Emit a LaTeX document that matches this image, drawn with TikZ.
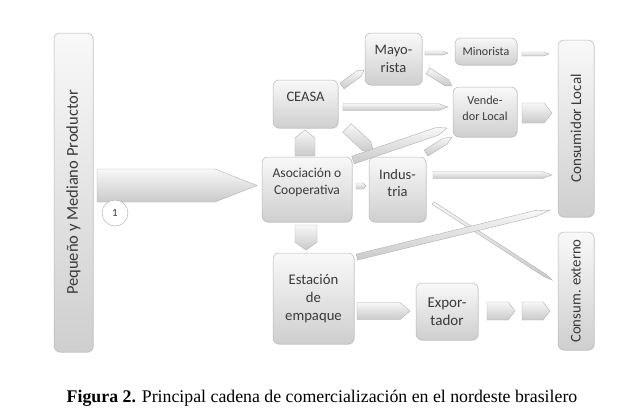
\documentclass[tikz,border=0pt]{standalone}
\usepackage{fontspec}
\setmainfont{Liberation Serif}
\newfontfamily\boxfont{Carlito}
\usetikzlibrary{calc,shadows}
\definecolor{txt}{HTML}{3A3A3A}
\tikzset{
  box/.style={rectangle, rounded corners=6pt, draw=gray!55, line width=0.5pt,
    top color=gray!5, bottom color=gray!38, text=txt, align=center, inner sep=1pt,
    drop shadow={opacity=0.18, shadow xshift=0.8pt, shadow yshift=-0.8pt}},
  barrowstyle/.style={top color=gray!6, bottom color=gray!42, draw=gray!60, line width=0.4pt},
  fs/.style 2 args={font={\boxfont\fontsize{#1}{#2}\selectfont}},
}
\newcommand\upby[2]{\raisebox{#1}[\height][\depth]{\begin{tabular}{@{}c@{}}#2\end{tabular}}}
\newcommand\barrow[5]{% name, start, end, half width, head length
  \coordinate (#1-s) at #2;
  \coordinate (#1-e) at #3;
  \coordinate (#1-h) at ($(#1-e)!#5!(#1-s)$);
  \path[barrowstyle] ($(#1-s)!#4!90:(#1-e)$) -- ($(#1-h)!#4!90:(#1-e)$) -- (#1-e)
     -- ($(#1-h)!#4!-90:(#1-e)$) -- ($(#1-s)!#4!-90:(#1-e)$) -- cycle;
}
\begin{document}
\begin{tikzpicture}[x=1pt,y=-1pt]
\fill[white] (0,0) rectangle (622,416);
\useasboundingbox (0,0) rectangle (622,416);

% nodes
\node[box, minimum width=39pt, minimum height=319pt] (prod) at (73.5,192.5) {};
\node[rotate=90, text=txt, fs={16.5}{19}] (prodt) at (prod.center) {Pequeño y Mediano Productor};

\node[box, minimum width=65pt, minimum height=48pt, fs={14.5}{17}] (ceasa) at (305.5,104) {\upby{6pt}{CEASA}};
\node[box, minimum width=90pt, minimum height=65pt, fs={13.5}{16.7}] (asoc) at (307,189.5) {\upby{7pt}{Asociación o\\Cooperativa}};
\node[box, minimum width=81pt, minimum height=91pt, fs={14.7}{18}] (estac) at (313.5,298.5) {Estación\\de\\empaque};
\node[box, minimum width=57pt, minimum height=52pt, fs={14.5}{17.7}] (mayor) at (393.5,59) {Mayo-\\rista};
\node[box, minimum width=62pt, minimum height=27pt, fs={12}{14}] (minor) at (486,51.5) {Minorista};
\node[box, minimum width=64pt, minimum height=50pt, fs={12.2}{16}] (vend) at (485,112) {\upby{3pt}{Vende-\\dor Local}};
\node[box, minimum width=57pt, minimum height=65pt, fs={14.5}{16.5}] (indus) at (397.5,189.5) {\upby{5pt}{Indus-\\tria}};
\node[box, minimum width=62pt, minimum height=57pt, fs={15}{18}] (expor) at (447,311.5) {Expor-\\tador};
\node[box, minimum width=36pt, minimum height=177pt] (conloc) at (576,128.5) {};
\node[rotate=90, text=txt, fs={15}{18}] (conloct) at (conloc.center) {Consumidor Local};
\node[box, minimum width=36pt, minimum height=118pt] (conext) at (576,291) {};
\node[rotate=90, text=txt, fs={14.8}{18}] (conextt) at (conext.center) {Consum. externo};

% block arrows
\barrow{prodasoc}{(97,185.5)}{(257,185.5)}{16.5pt}{42pt}
\barrow{asocceasa}{(305,156)}{(305,130)}{10pt}{8pt}
\barrow{asocestac}{(306,225)}{(306,250)}{11pt}{8pt}
\barrow{ceasamayor}{(342,86)}{(364,70)}{3.5pt}{6pt}
\barrow{mayorminor}{(425,53)}{(448,53)}{2pt}{5pt}
\barrow{minorconloc}{(522,54)}{(549,54)}{2pt}{5pt}
\barrow{mayorvend}{(428,71)}{(452,86)}{3.5pt}{6pt}
\barrow{ceasavend}{(343,107)}{(448,107)}{3.5pt}{10pt}
\barrow{vendconloc}{(522,113)}{(552,113)}{10pt}{8pt}
\barrow{ceasaindus}{(347,128)}{(374,153)}{6pt}{10pt}
\barrow{asocvend}{(353,160)}{(447,128)}{4pt}{10pt}
\barrow{indusvend}{(426,153)}{(452,137)}{3.5pt}{8pt}
\barrow{asocindus}{(356,186)}{(366,186)}{3pt}{3pt}
\barrow{indusconloc}{(433,175)}{(552,175)}{3.5pt}{10pt}
\barrow{indusconext}{(433,203)}{(552,280)}{1.5pt}{8pt}
\barrow{estacconloc}{(357,257)}{(550,210)}{3pt}{15pt}
\barrow{estacexpor}{(357,311)}{(410,311)}{8.5pt}{10pt}
\barrow{expormid}{(487,311)}{(515,311)}{9pt}{7pt}
\barrow{midconext}{(522,311)}{(550,311)}{9pt}{7pt}

\node[circle, draw=gray!70, fill=white, minimum size=26pt, inner sep=0pt, text=txt,
  fs={11}{13}] (one) at (115,213) {1};

\node[font={\fontsize{17.8}{20}\selectfont}, anchor=base] (cap) at (322,402)
  {\textbf{Figura 2.} Principal cadena de comercialización en el nordeste brasilero};
\end{tikzpicture}
\end{document}
